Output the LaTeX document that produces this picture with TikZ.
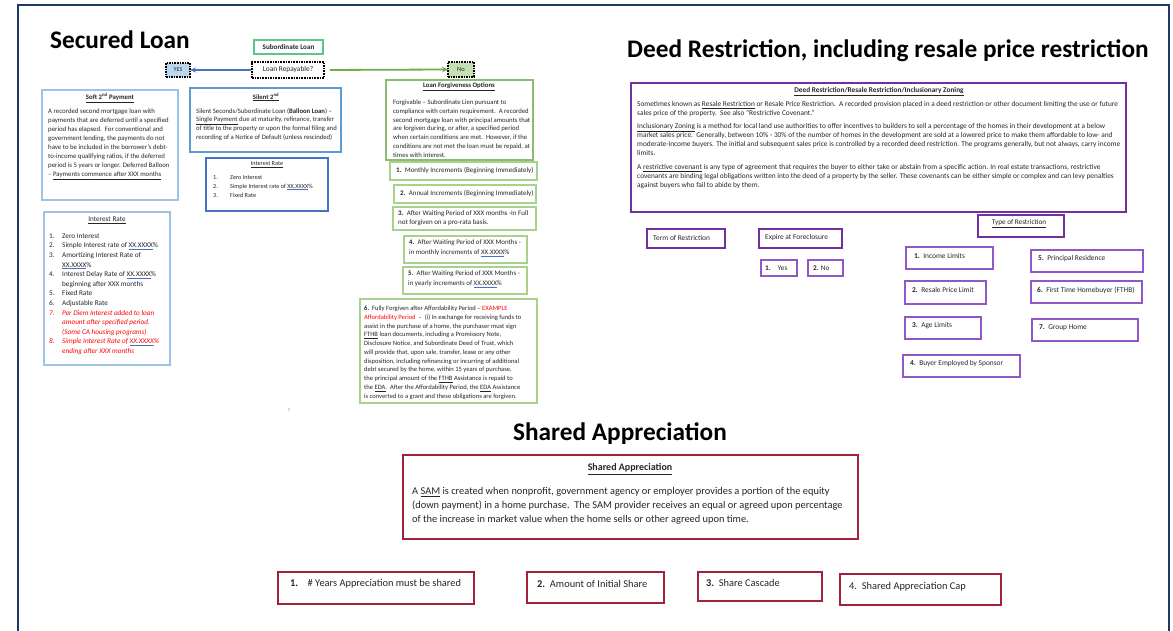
\documentclass[tikz,border=0pt]{standalone}
\usepackage{fontspec}
\setmainfont{Carlito}
\usetikzlibrary{arrows.meta}
\definecolor{navy}{HTML}{1F3864}
\definecolor{txt}{HTML}{262626}
\definecolor{lblue}{HTML}{9DC3E6}
\definecolor{mblue}{HTML}{5B9BD5}
\definecolor{dblue}{HTML}{4472C4}
\definecolor{mint}{HTML}{5CC58A}
\definecolor{grn}{HTML}{70AD47}
\definecolor{lgrn}{HTML}{A9D18E}
\definecolor{yesfill}{HTML}{BDD7EE}
\definecolor{nofill}{HTML}{C5E0B4}
\definecolor{dpurp}{HTML}{7030A0}
\definecolor{purp}{HTML}{9057C8}
\definecolor{crim}{HTML}{A5203B}
\definecolor{redtxt}{HTML}{FF0000}
\definecolor{spblue}{HTML}{4472C4}
\newcommand\sq[1]{{\color{spblue}\underline{\color{txt}#1}}}
\newcommand\fsz[2]{\fontsize{#1}{#2}\selectfont}
\newcommand\itm[2]{\makebox[#1][l]{#2}}
\tikzset{
  frame/.style={draw, anchor=north west, inner sep=0pt, outer sep=0pt},
  body/.style={anchor=north west, inner sep=0pt, align=left, text=txt},
  lbl/.style={anchor=west, inner sep=0pt, text=txt},
  ttl/.style={inner sep=0pt, text=txt},
  bigt/.style={inner sep=0pt, text=black, font=\fsz{25.3}{28}\bfseries},
}
\newcommand\bx[6]{\node[frame,#1,minimum width={#5-#3},minimum height={#6-#4}] (#2) at (#3,#4) {};}
\begin{document}
\begin{tikzpicture}[x=1pt,y=-1pt]
\useasboundingbox (0,0) rectangle (1173,631);
\fill[white] (0,0) rectangle (1173,631);
\draw[navy, line width=1.5pt] (18,5) rectangle (1169,640);

% titles
\node[bigt, anchor=west] (t1) at (50,40) {Secured Loan};
\node[bigt, anchor=west] (t2) at (627,51) {Deed Restriction, including resale price restriction};
\node[bigt] (t3) at (620,434) {Shared Appreciation};

% ---------- secured loan ----------
\bx{mint, line width=1.3pt}{sub}{254}{40}{323}{54}
\node[ttl, font=\fsz{7.1}{8}\bfseries] at (sub.center) {Subordinate Loan};
\bx{black, line width=1.1pt, dash pattern=on 1.6pt off 1pt}{rep}{252}{62}{324}{78}
\node[ttl, font=\fsz{7.4}{8}] at (rep.center) {Loan Repayable?};
\bx{black, line width=1.1pt, dash pattern=on 1.6pt off 1pt, fill=yesfill}{yes}{166}{63}{190}{77}
\node[ttl, font=\fsz{6}{7}] at (yes.center) {YES};
\bx{black, line width=1.1pt, dash pattern=on 1.6pt off 1pt, fill=nofill}{no}{448}{62}{474}{77}
\node[ttl, font=\fsz{6.5}{7}] at (no.center) {No};
\draw[-{Stealth[length=6pt,width=5pt]}, dblue, line width=1.4pt, shorten <=1pt] (rep.west) -- (yes.east);
\draw[-{Stealth[length=6pt,width=5.5pt]}, grn, line width=1.8pt, shorten <=6pt] (rep.east) -- (no.west);

% soft 2nd
\bx{lblue, line width=1.2pt}{soft}{42}{90}{178}{200}
\node[ttl, font=\fsz{6.8}{8}\bfseries] at (110,98) {\underline{Soft 2\textsuperscript{nd} Payment}};
\node[body, font=\fsz{6.8}{9}] at (48,108.5) {A recorded second mortgage loan with\\
payments that are deferred until a specified\\
period has elapsed.\ \ For conventional and\\
government lending, the payments do not\\
have to be included in the borrower's debt-\\
to-income qualifying ratios, if the deferred\\
period is 5 years or longer. Deferred Balloon\\
-- \underline{Payments commence after XXX months}};

% left interest rate
\bx{lblue, line width=1.2pt}{ir1}{44}{212}{170}{365}
\node[ttl, font=\fsz{7.2}{8}] at (107,220) {\underline{Interest Rate}};
\node[body, font=\fsz{7.2}{9.6}] at (49,233.5) {\itm{13pt}{1.}Zero Interest\\
\itm{13pt}{2.}Simple Interest rate of \sq{XX.XXXX}\%\\
\itm{13pt}{3.}Amortizing Interest Rate of\\
\itm{13pt}{}\sq{XX.XXXX}\%\\
\itm{13pt}{4.}Interest Delay Rate of \sq{XX.XXXX}\%\\
\itm{13pt}{}beginning after XXX months\\
\itm{13pt}{5.}Fixed Rate\\
\itm{13pt}{6.}Adjustable Rate\\
{\color{redtxt}\itshape\itm{13pt}{7.}Per Diem Interest added to loan}\\
{\color{redtxt}\itshape\itm{13pt}{}amount after specified period.}\\
{\color{redtxt}\itshape\itm{13pt}{}(Some CA housing programs)}\\
{\color{redtxt}\itshape\itm{13pt}{8.}Simple Interest Rate of \sq{\color{redtxt}XX.XXXX}\%}\\
{\color{redtxt}\itshape\itm{13pt}{}ending after XXX months}};

% silent 2nd
\bx{mblue, line width=1.3pt}{sil}{190}{88}{341}{152}
\node[ttl, font=\fsz{6.7}{8}\bfseries] at (266,97) {\underline{Silent 2\textsuperscript{nd}}};
\node[body, font=\fsz{6.7}{8.8}] at (196,108) {Silent Seconds/Subordinate Loan (\textbf{Balloon Loan}) --\\
\underline{Single Payment} due at maturity, refinance, transfer\\
of title to the property or upon the formal filing and\\
recording of a Notice of Default (unless rescinded)};

% middle interest rate
\bx{dblue, line width=1.2pt}{ir2}{206}{158}{328}{211}
\node[ttl, font=\fsz{6.2}{7}] at (267,165) {\underline{Interest Rate}};
\node[body, font=\fsz{6.2}{9}] at (213,175) {\itm{17pt}{1.}Zero Interest\\
\itm{17pt}{2.}Simple Interest rate of \sq{XX.XXXX}\%\\
\itm{17pt}{3.}Fixed Rate};

% loan forgiveness
\bx{grn!80, line width=1.6pt}{lfo}{386}{80}{533}{160}
\node[ttl, font=\fsz{6.8}{8}\bfseries] at (459,87) {\underline{Loan Forgiveness Options}};
\node[body, font=\fsz{6.7}{8.7}] at (393,100) {Forgivable -- Subordinate Lien pursuant to\\
compliance with certain requirement.\ \ A recorded\\
second mortgage loan with principal amounts that\\
are forgiven during, or after, a specified period\\
when certain conditions are met.\ \ However, if the\\
conditions are not met the loan must be repaid, at\\
times with interest.};

\bx{lgrn, line width=1.6pt}{f1}{390}{162}{537}{180}
\node[lbl, font=\fsz{7}{8}] at (396,171) {\textbf{1.}\ \ Monthly Increments (Beginning Immediately)};
\bx{lgrn, line width=1.6pt}{f2}{394}{185}{536}{203}
\node[lbl, font=\fsz{7}{8}] at (400,194) {\textbf{2.}\ \ Annual Increments (Beginning Immediately)};
\bx{lgrn, line width=1.6pt}{f3}{393}{207}{536}{230}
\node[body, font=\fsz{7}{9}] at (398,210) {\textbf{3.}\ \ After Waiting Period of XXX months -In Full\\not forgiven on a pro-rata basis.};
\bx{lgrn, line width=1.6pt}{f4}{404}{236}{527}{263}
\node[body, font=\fsz{6.9}{9.5}] at (409,240) {\textbf{4.}\ \ After Waiting Period of XXX Months -\\in monthly increments of \sq{XX.XXXX}\%};
\bx{lgrn, line width=1.6pt}{f5}{403}{267}{527}{294}
\node[body, font=\fsz{6.9}{9.5}] at (408,271) {\textbf{5.}\ \ After Waiting Period of XXX Months -\\in yearly increments of \sq{XX.XXXX}\%};
\bx{lgrn, line width=1.6pt}{f6}{360}{299}{537}{403}
\node[body, font=\fsz{6.55}{8.75}] at (364,306) {\textbf{6.}\ \ Fully Forgiven after Affordability Period -- {\color{redtxt}EXAMPLE}\\
{\color{redtxt}Affordability Period}\ \ --\ \ (i) In exchange for receiving funds to\\
assist in the purchase of a home, the purchaser must sign\\
\underline{FTHB} loan documents, including a Promissory Note,\\
Disclosure Notice, and Subordinate Deed of Trust, which\\
will provide that, upon sale, transfer, lease or any other\\
disposition, including refinancing or incurring of additional\\
debt secured by the home, within 15 years of purchase,\\
the principal amount of the \underline{FTHB} Assistance is repaid to\\
the \underline{EDA}.\ \ After the Affordability Period, the \underline{EDA} Assistance\\
is converted to a grant and these obligations are forgiven.};
\node[ttl, font=\fsz{4.5}{5}, text=gray] (mark) at (289,410) {1};

% ---------- deed restriction ----------
\bx{dpurp, line width=2.4pt}{deed}{631}{83}{1126}{212}
\node[ttl, font=\fsz{7.3}{8}\bfseries] at (879,92) {\underline{Deed Restriction/Resale Restriction/Inclusionary Zoning}};
\node[body, font=\fsz{7.35}{9}] at (637,101) {Sometimes known as \underline{Resale Restriction} or Resale Price Restriction.\ \ A recorded provision placed in a deed restriction or other document limiting the use or future\\
sales price of the property.\ \ See also ``Restrictive Covenant.''\\[4.5pt]
\underline{Inclusionary Zoning} is a method for local land use authorities to offer incentives to builders to sell a percentage of the homes in their development at a below\\
market sales price.\ \ Generally, between 10\% - 30\% of the number of homes in the development are sold at a lowered price to make them affordable to low- and\\
moderate-income buyers. The initial and subsequent sales price is controlled by a recorded deed restriction. The programs generally, but not always, carry income\\
limits.\\[4.5pt]
A \underline{restrictive covenant} is any type of agreement that requires the buyer to either take or abstain from a specific action. In real estate transactions, restrictive\\
covenants are binding legal obligations written into the deed of a property by the seller. These covenants can be either simple or complex and can levy penalties\\
against buyers who fail to abide by them.};

\bx{dpurp, line width=1.6pt}{term}{647}{229}{725}{248}
\node[lbl, font=\fsz{7.4}{8}] at (653,237.5) {Term of Restriction};
\bx{dpurp, line width=1.6pt}{exp}{759}{229}{842}{248}
\node[lbl, font=\fsz{7.4}{8}] at (765,237.5) {Expire at Foreclosure};
\bx{purp, line width=1.5pt}{ys}{761}{260}{797}{276}
\node[lbl, font=\fsz{7.2}{8}] at (765,268) {\textbf{1.}\quad Yes};
\bx{purp, line width=1.5pt}{nn}{808}{260}{843}{276}
\node[lbl, font=\fsz{7.2}{8}] at (813,268) {\textbf{2.} No};
\bx{dpurp, line width=1.6pt}{type}{978}{215}{1064}{237}
\node[ttl, font=\fsz{7.2}{8}] at (1019,224) {\underline{Type of Restriction}};
\bx{purp, line width=1.5pt}{r1}{906}{247}{993}{269}
\node[lbl, font=\fsz{7.4}{8}] at (914,256) {\textbf{1.}\ \ Income Limits};
\bx{purp, line width=1.5pt}{r5}{1031}{250}{1143}{272}
\node[lbl, font=\fsz{7.4}{8}] at (1038,258.5) {\textbf{5.}\ \ Principal Residence};
\bx{purp, line width=1.5pt}{r2}{905}{281}{986}{304}
\node[lbl, font=\fsz{7.4}{8}] at (912,290) {\textbf{2.}\ \ Resale Price Limit};
\bx{purp, line width=1.5pt}{r6}{1031}{281}{1142}{303}
\node[lbl, font=\fsz{7.4}{8}] at (1037,290) {\textbf{6.}\ \ First Time Homebuyer (FTHB)};
\bx{purp, line width=1.5pt}{r3}{905}{317}{981}{339}
\node[lbl, font=\fsz{7.4}{8}] at (912,326) {\textbf{3.}\ \ Age Limits};
\bx{purp, line width=1.5pt}{r7}{1032}{319}{1138}{341}
\node[lbl, font=\fsz{7.4}{8}] at (1039,328) {\textbf{7.}\ \ Group Home};
\bx{purp, line width=1.5pt}{r4}{903}{355}{1020}{377}
\node[lbl, font=\fsz{7.4}{8}] at (910,363.5) {\textbf{4.}\ \ Buyer Employed by Sponsor};

% ---------- shared appreciation ----------
\bx{crim, line width=2.4pt}{sam}{403}{455}{858}{539}
\node[ttl, font=\fsz{10}{11}\bfseries] at (630,469) {\underline{Shared Appreciation}};
\node[body, font=\fsz{10.4}{14}] at (412,487.5) {A \underline{SAM} is created when nonprofit, government agency or employer provides a portion of the equity\\
(down payment) in a home purchase.\ \ The SAM provider receives an equal or agreed upon percentage\\
of the increase in market value when the home sells or other agreed upon time.};

\bx{crim, line width=1.8pt}{s1}{278}{572}{474}{604}
\node[lbl, font=\fsz{10.4}{11}] at (290,584) {\textbf{1.}\ \ \ \ \# Years Appreciation must be shared};
\bx{crim, line width=1.8pt}{s2}{527}{572}{664}{603}
\node[lbl, font=\fsz{10.4}{11}] at (537,584) {\textbf{2.}\ \ Amount of Initial Share};
\bx{crim, line width=1.8pt}{s3}{698}{572}{822}{601}
\node[lbl, font=\fsz{10.4}{11}] at (706,583) {\textbf{3.}\ \ Share Cascade};
\bx{crim, line width=1.8pt}{s4}{840}{574}{1001}{605}
\node[lbl, font=\fsz{10.4}{11}] at (849,587) {4.\ \ Shared Appreciation Cap};
\end{tikzpicture}
\end{document}
